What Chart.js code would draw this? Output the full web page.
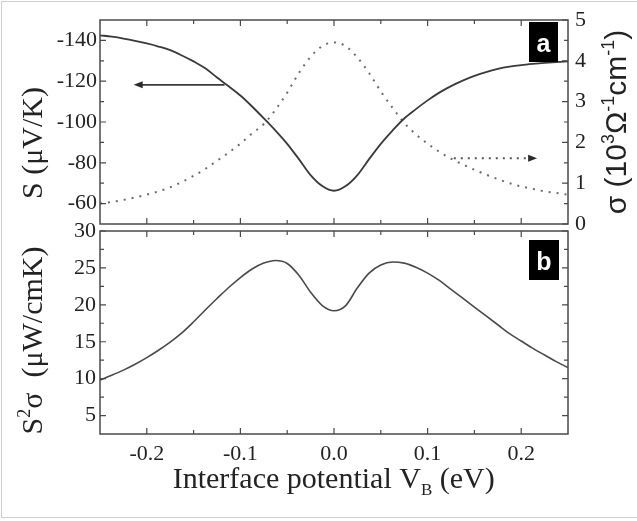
<!DOCTYPE html>
<html>
<head>
<meta charset="utf-8">
<script src="https://cdn.jsdelivr.net/npm/chart.js@4.4.0/dist/chart.umd.min.js"></script>
<style>
  body { margin: 0; background: #fff; }
  #wrap { position: relative; width: 637px; height: 521px; overflow: hidden; }
  #frame { position: absolute; left: 1px; top: 1px; width: 660px; height: 515px; border: 1px solid #cfcfcf; }
  canvas { position: absolute; left: 0; }
  #top { top: 0; }
  #bottom { top: 212px; }
</style>
</head>
<body>
<div id="wrap">
  <div id="frame"></div>
  <canvas id="top" width="637" height="245"></canvas>
  <canvas id="bottom" width="637" height="309"></canvas>
</div>
<script>
// interface potential V_B (eV)
var vb = [-0.25,-0.2375,-0.225,-0.2125,-0.2,-0.1875,-0.175,-0.1625,-0.15,-0.1375,-0.125,-0.1125,-0.1,-0.0875,-0.075,-0.0625,-0.05,-0.0375,-0.025,-0.0125,0,
          0.0125,0.025,0.0375,0.05,0.0625,0.075,0.0875,0.1,0.1125,0.125,0.1375,0.15,0.1625,0.175,0.1875,0.2,0.2125,0.225,0.2375,0.25];
// S (uV/K)
var seebeck = [-142.5,-141.8,-140.9,-139.8,-138.5,-137.0,-135.2,-132.6,-129.7,-126.3,-121.8,-117.5,-113.0,-107.6,-101.8,-95.8,-89.3,-81.8,-74.0,-68.6,-66.3,
               -68.6,-74.0,-81.8,-89.3,-95.8,-101.7,-106.3,-110.6,-114.4,-117.6,-120.3,-122.6,-124.5,-126.0,-127.1,-127.9,-128.5,-129.0,-129.4,-129.7];
// sigma (10^3 /Ohm cm)
var sigma = [0.50,0.54,0.59,0.65,0.72,0.80,0.90,1.03,1.18,1.35,1.55,1.75,1.97,2.22,2.45,2.80,3.22,3.70,4.10,4.36,4.45,
             4.36,4.08,3.70,3.25,2.85,2.48,2.20,1.97,1.77,1.60,1.46,1.33,1.21,1.10,1.00,0.92,0.86,0.80,0.76,0.72];
// S^2 sigma (uW/cmK)
var power = [9.8,10.45,11.15,11.95,12.85,13.85,14.95,16.2,17.7,19.3,20.85,22.35,23.7,24.85,25.65,26.0,25.6,24.0,21.7,19.9,19.2,
             19.9,22.3,24.3,25.4,25.8,25.65,25.1,24.3,23.3,22.1,20.9,19.7,18.5,17.3,16.1,15.1,14.1,13.2,12.3,11.5];

// arrows: [x start, x tip] at one y value
var sArrowX = [-0.117, -0.214], sArrowY = -118.2;
var sigArrowX = [0.128, 0.217], sigArrowY = 1.61;

// ticks
var xTicks = [-0.2, -0.1, 0, 0.1, 0.2];
var xMinor = [-0.15, -0.05, 0.05, 0.15];
var sTicks = [-140, -120, -100, -80, -60];
var sMinor = [-130, -110, -90, -70];
var sigTicks = [0, 1, 2, 3, 4, 5];
var sigMinor = [0.5, 1.5, 2.5, 3.5, 4.5];
var pTicks = [5, 10, 15, 20, 25, 30];
var pMinor = [7.5, 12.5, 17.5, 22.5, 27.5];

var ink = '#232323';
var axisCol = '#4a4a4a';
var serif = '"Liberation Serif", "Times New Roman", serif';
var sans = '"Liberation Sans", Arial, sans-serif';

function pts(ys) { return vb.map(function (x, i) { return { x: x, y: ys[i] }; }); }
function setTicks(list) { return function (scale) { scale.ticks = list.map(function (v) { return { value: v }; }); }; }
// fixed axis box, no extra label overhang padding
function fixWidth(w) { return function (s) { s.width = w; s.paddingTop = 0; s.paddingBottom = 0; }; }
function fixHeight(h) { return function (s) { s.height = h; s.paddingLeft = 0; s.paddingRight = 0; }; }

// frame + inward ticks
var frameTicks = {
  id: 'frameTicks',
  afterDatasetsDraw: function (chart, args, opts) {
    var ctx = chart.ctx, a = chart.chartArea, sc = chart.scales;
    ctx.save();
    ctx.strokeStyle = axisCol;
    ctx.lineWidth = 1.5;
    ctx.strokeRect(a.left, a.top, a.right - a.left, a.bottom - a.top);
    ctx.lineWidth = 1.2;
    ctx.beginPath();
    xTicks.concat(xMinor).forEach(function (v) {
      var len = xTicks.indexOf(v) >= 0 ? 6 : 4;
      var px = sc.x.getPixelForValue(v);
      ctx.moveTo(px, a.bottom); ctx.lineTo(px, a.bottom - len);
      ctx.moveTo(px, a.top); ctx.lineTo(px, a.top + len);
    });
    [['left', a.left, 1], ['right', a.right, -1]].forEach(function (side) {
      var o = opts[side[0]];
      if (!o) return;
      o.major.concat(o.minor).forEach(function (v) {
        var len = o.major.indexOf(v) >= 0 ? 6 : 4;
        var py = sc[o.id].getPixelForValue(v);
        ctx.moveTo(side[1], py); ctx.lineTo(side[1] + side[2] * len, py);
      });
    });
    ctx.stroke();
    ctx.restore();
  }
};

// arrow heads, panel letters, axis titles
function drawRuns(ctx, runs, x, y, rot) {
  ctx.save();
  ctx.translate(x, y);
  ctx.rotate(rot);
  ctx.textBaseline = 'alphabetic';
  ctx.textAlign = 'left';
  ctx.fillStyle = ink;
  var w = 0;
  runs.forEach(function (r) { ctx.font = r.font; r.w = ctx.measureText(r.t).width; w += r.w; });
  var cx = -w / 2;
  runs.forEach(function (r) { ctx.font = r.font; ctx.fillText(r.t, cx, r.dy || 0); cx += r.w; });
  ctx.restore();
}

var extras = {
  id: 'extras',
  afterDraw: function (chart, args, opts) {
    var ctx = chart.ctx, sc = chart.scales;
    (opts.heads || []).forEach(function (h) {
      var tx = sc.x.getPixelForValue(h.x), ty = sc[h.id].getPixelForValue(h.y);
      ctx.save();
      ctx.fillStyle = h.color;
      ctx.beginPath();
      ctx.moveTo(tx, ty);
      ctx.lineTo(tx - h.dir * 9, ty - 3.5);
      ctx.lineTo(tx - h.dir * 9, ty + 3.5);
      ctx.closePath();
      ctx.fill();
      ctx.restore();
    });
    if (opts.box) {
      var b = opts.box;
      ctx.save();
      ctx.fillStyle = '#000';
      ctx.fillRect(b.x, b.y, b.w, b.h);
      ctx.fillStyle = '#fff';
      ctx.font = 'bold 25px ' + sans;
      ctx.textAlign = 'center';
      ctx.textBaseline = 'alphabetic';
      ctx.fillText(b.t, b.x + b.w / 2, b.y + 30);
      ctx.restore();
    }
    (opts.titles || []).forEach(function (t) { drawRuns(ctx, t.runs, t.x, t.y, t.rot); });
  }
};

var tickFont = { family: serif, size: 22 };

// panel a
new Chart(document.getElementById('top'), {
  type: 'line',
  data: {
    datasets: [
      { data: pts(seebeck), yAxisID: 'y', borderColor: '#3a3a3a', borderWidth: 1.8, pointRadius: 0, cubicInterpolationMode: 'monotone' },
      { data: pts(sigma), yAxisID: 'y2', borderColor: '#6c6c6c', borderWidth: 2, borderDash: [2, 6], pointRadius: 0, cubicInterpolationMode: 'monotone' },
      { data: [{ x: sArrowX[0], y: sArrowY }, { x: sArrowX[1] + 0.008, y: sArrowY }], yAxisID: 'y', borderColor: '#3a3a3a', borderWidth: 1.6, pointRadius: 0 },
      { data: [{ x: sigArrowX[0], y: sigArrowY }, { x: sigArrowX[1] - 0.008, y: sigArrowY }], yAxisID: 'y2', borderColor: '#555', borderWidth: 2, borderDash: [2, 5], pointRadius: 0 }
    ]
  },
  options: {
    responsive: false,
    animation: false,
    layout: { padding: { top: 20, bottom: 21 } },
    scales: {
      x: { type: 'linear', min: -0.25, max: 0.25, display: false },
      y: {
        type: 'linear', position: 'left', min: -150, max: -50, reverse: true,
        afterBuildTicks: setTicks(sTicks),
        afterFit: fixWidth(100),
        grid: { display: false, drawTicks: false }, border: { display: false },
        ticks: { font: tickFont, color: ink, padding: 3 }
      },
      y2: {
        type: 'linear', position: 'right', min: 0, max: 5,
        afterBuildTicks: setTicks(sigTicks),
        afterFit: fixWidth(69),
        grid: { display: false, drawTicks: false }, border: { display: false },
        ticks: { font: tickFont, color: ink, padding: 7 }
      }
    },
    plugins: {
      legend: { display: false },
      tooltip: { enabled: false },
      frameTicks: {
        left: { id: 'y', major: sTicks, minor: sMinor },
        right: { id: 'y2', major: sigTicks, minor: sigMinor }
      },
      extras: {
        heads: [
          { x: sArrowX[1], y: sArrowY, id: 'y', dir: -1, color: '#2a2a2a' },
          { x: sigArrowX[1], y: sigArrowY, id: 'y2', dir: 1, color: '#2a2a2a' }
        ],
        box: { t: 'a', x: 529, y: 22, w: 29, h: 40 },
        titles: [
          { x: 42, y: 143, rot: -Math.PI / 2, runs: [{ t: 'S (μV/K)', font: '30px ' + serif }] },
          { x: 626, y: 122, rot: -Math.PI / 2, runs: [
            { t: 'σ (10', font: '30px ' + sans },
            { t: '3', font: '18px ' + sans, dy: -12 },
            { t: 'Ω', font: '30px ' + sans },
            { t: '-1', font: '18px ' + sans, dy: -12 },
            { t: 'cm', font: '30px ' + sans },
            { t: '-1', font: '18px ' + sans, dy: -12 },
            { t: ')', font: '30px ' + sans }
          ] }
        ]
      }
    }
  },
  plugins: [frameTicks, extras]
});

// panel b
new Chart(document.getElementById('bottom'), {
  type: 'line',
  data: {
    datasets: [
      { data: pts(power), borderColor: '#4a4a4a', borderWidth: 1.6, pointRadius: 0, cubicInterpolationMode: 'monotone' }
    ]
  },
  options: {
    responsive: false,
    animation: false,
    layout: { padding: { top: 19, right: 69 } },
    scales: {
      x: {
        type: 'linear', min: -0.25, max: 0.25,
        afterBuildTicks: setTicks(xTicks),
        afterFit: fixHeight(87),
        grid: { display: false, drawTicks: false }, border: { display: false },
        ticks: { font: tickFont, color: ink, padding: 7, maxRotation: 0, callback: function (v) { return v.toFixed(1); } }
      },
      y: {
        type: 'linear', min: 2.5, max: 30,
        afterBuildTicks: setTicks(pTicks),
        afterFit: fixWidth(100),
        grid: { display: false, drawTicks: false }, border: { display: false },
        ticks: { font: tickFont, color: ink, padding: 4 }
      }
    },
    plugins: {
      legend: { display: false },
      tooltip: { enabled: false },
      frameTicks: {
        left: { id: 'y', major: pTicks, minor: pMinor },
        right: { id: 'y', major: pTicks, minor: pMinor }
      },
      extras: {
        box: { t: 'b', x: 529, y: 28, w: 30, h: 40 },
        titles: [
          { x: 42, y: 128.5, rot: -Math.PI / 2, runs: [
            { t: 'S', font: '30px ' + serif },
            { t: '2', font: '18px ' + serif, dy: -12 },
            { t: 'σ  (μW/cmK)', font: '30px ' + serif }
          ] },
          { x: 333.7, y: 276, rot: 0, runs: [
            { t: 'Interface potential V', font: '30px ' + serif },
            { t: 'B', font: '17px ' + serif, dy: 7 },
            { t: ' (eV)', font: '30px ' + serif }
          ] }
        ]
      }
    }
  },
  plugins: [frameTicks, extras]
});
</script>
</body>
</html>
